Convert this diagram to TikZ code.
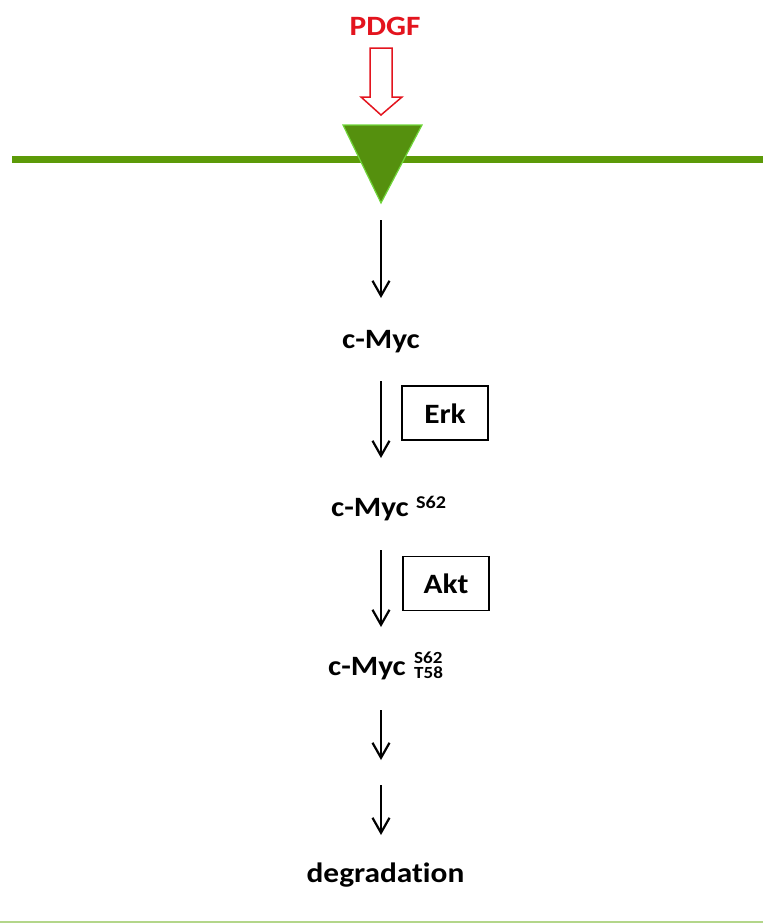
\documentclass[tikz,border=0pt]{standalone}
\usepackage{fontspec}
\setmainfont{Carlito}[Ligatures={NoCommon}]
\usepackage{tikz}
\usepackage{xcolor}
\usetikzlibrary{arrows.meta}
\definecolor{memgreen}{HTML}{5C9A08}
\definecolor{recgreen}{HTML}{55900E}
\definecolor{recedge}{HTML}{70D63A}
\definecolor{pdgfred}{HTML}{E3141E}
\definecolor{lowgreen}{HTML}{B3D68A}
\newcommand{\wide}[1]{\scalebox{1.12}[1]{#1}}

\begin{document}
\begin{tikzpicture}[x=1pt, y=-1pt,
    txt/.style={font=\bfseries\fontsize{28}{32}\selectfont, inner sep=0pt},
    site/.style={font=\bfseries\fontsize{17}{12.5}\selectfont, inner sep=0pt, anchor=base west},
    kinase/.style={draw, line width=1.8pt, minimum width=86pt, minimum height=54pt, inner sep=0pt,
        font=\bfseries\fontsize{28}{32}\selectfont},
    arr/.style={line width=2.2pt, -{Straight Barb[length=15pt, width=17pt, line width=2.2pt]}}]
    \useasboundingbox (0,0) rectangle (763,924);
    \draw[memgreen, line width=7pt] (12,159.5) -- (763,159.5);
    \draw[lowgreen, line width=2.5pt] (0,922) -- (763,922);
    \filldraw[fill=recgreen, draw=recedge, line width=1.2pt] (343,125) -- (422,125) -- (381,203) -- cycle;
    \coordinate (rec) at (381,203);
    \node[txt, text=pdgfred, anchor=base] (pdgf) at (385,35) {\wide{PDGF}};
    \filldraw[fill=white, draw=pdgfred, line width=1.5pt] (370,48) -- (392,48) -- (392,97) -- (402,97) -- (381,115) -- (361,97) -- (370,97) -- cycle;
    \node[txt, anchor=base] (myc) at (381,348.5) {\wide{c-Myc}};
    \node[txt, anchor=base] (mycS) at (370,516.7) {\wide{c-Myc}};
    \node[site, font=\bfseries\fontsize{18}{20}\selectfont] (s62a) at (416,508.5) {\wide{S62}};
    \node[txt, anchor=base] (mycST) at (367,675) {\wide{c-Myc}};
    \node[site, align=left] (sites) at (414,678) {\wide{S62}\\[2pt]\wide{T58}};
    \node[txt, anchor=base] (deg) at (385.5,882.5) {\wide{degradation}};
    \node[kinase] (erk) at (445,413.3) {\wide{Erk}};
    \node[kinase] (akt) at (446,583.5) {\wide{Akt}};
    \coordinate (a1) at (381,220);
    \coordinate (b1) at (381,298);
    \coordinate (a2) at (381,381);
    \coordinate (b2) at (381,458);
    \coordinate (a3) at (381,550);
    \coordinate (b3) at (381,627);
    \coordinate (a4) at (381,710);
    \coordinate (b4) at (381,760);
    \coordinate (a5) at (381,785);
    \coordinate (b5) at (381,835);
    \draw[arr] (a1) -- (b1);
    \draw[arr] (a2) -- (b2);
    \draw[arr] (a3) -- (b3);
    \draw[arr] (a4) -- (b4);
    \draw[arr] (a5) -- (b5);
\end{tikzpicture}
\end{document}
